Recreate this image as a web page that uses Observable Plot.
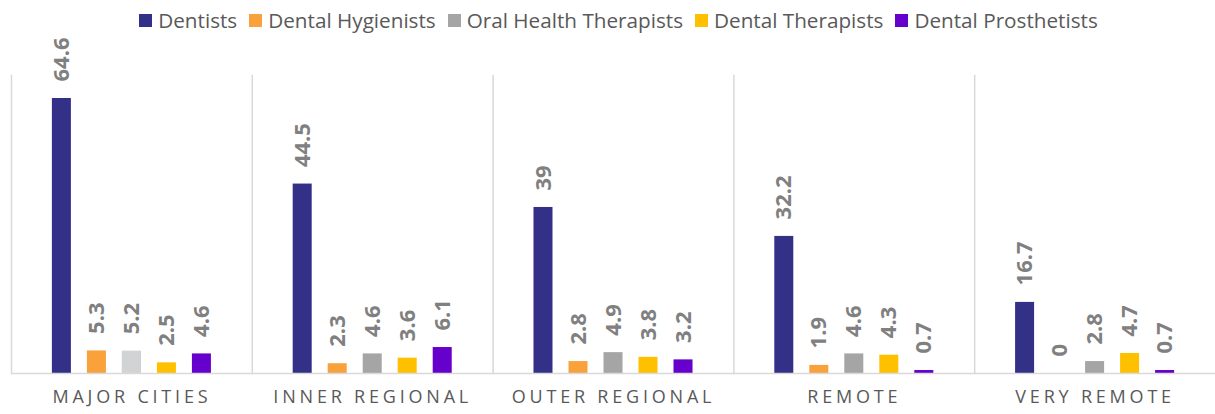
<!DOCTYPE html>
<html>
<head>
<meta charset="utf-8">
<script src="https://cdn.jsdelivr.net/npm/d3@7"></script>
<script src="https://cdn.jsdelivr.net/npm/@observablehq/plot@0.6"></script>
<style>
  html, body { margin: 0; padding: 0; background: #fff; }
  #legend { position: relative; z-index: 1; height: 22px; overflow: visible; display: flex; justify-content: center; align-items: flex-start; gap: 12px;
            font-family: "Open Sans", sans-serif; font-size: 20.7px; color: #595959; padding-left: 22px; box-sizing: border-box; width: 1215px; }
  .item { display: flex; align-items: center; white-space: nowrap; height: 28px; margin-top: 6px; line-height: 28px; }
  .sw { width: 13px; height: 13px; margin-right: 6px; }
  svg { display: block; overflow: visible; }
</style>
</head>
<body>
<div id="legend"></div>
<div id="chart"></div>
<script>
const categories = ["Major Cities", "Inner Regional", "Outer Regional", "Remote", "Very Remote"];
const seriesNames = ["Dentists", "Dental Hygienists", "Oral Health Therapists", "Dental Therapists", "Dental Prosthetists"];
const dentists = [64.6, 44.5, 39, 32.2, 16.7];
const hygienists = [5.3, 2.3, 2.8, 1.9, 0];
const oralHealthTherapists = [5.2, 4.6, 4.9, 4.6, 2.8];
const dentalTherapists = [2.5, 3.6, 3.8, 4.3, 4.7];
const prosthetists = [4.6, 6.1, 3.2, 0.7, 0.7];
const seriesColors = ["#333088", "#F9A13B", "#A5A5A5", "#FFC000", "#6600CC"];

const seriesValues = [dentists, hygienists, oralHealthTherapists, dentalTherapists, prosthetists];
const rows = [];
categories.forEach((c, i) => seriesNames.forEach((s, j) => rows.push({category: c, series: s, value: seriesValues[j][i]})));

// legend
const legend = document.getElementById("legend");
seriesNames.forEach((s, j) => {
  const it = document.createElement("div"); it.className = "item";
  const sw = document.createElement("div"); sw.className = "sw"; sw.style.background = seriesColors[j];
  const t = document.createElement("span"); t.textContent = s;
  it.appendChild(sw); it.appendChild(t); legend.appendChild(it);
});

const font = "Open Sans, sans-serif";
const chart = Plot.plot({
  width: 1215,
  height: 392,
  marginLeft: 11,
  marginRight: 0,
  marginTop: 53,
  marginBottom: 41,
  style: {fontFamily: font, overflow: "visible"},
  fx: {domain: categories, padding: 0, axis: null, round: false},
  x: {domain: seriesNames, paddingInner: 0.457, paddingOuter: 1.168, axis: null, round: false},
  y: {domain: [0, 70], axis: null},
  color: {domain: seriesNames, range: seriesColors},
  marks: [
    Plot.frame({anchor: "left", stroke: "#D9D9D9", strokeWidth: 1.5}),
    Plot.barY(rows, {fx: "category", x: "series", y: "value", fill: "series"}),
    Plot.barY(rows.filter(d => d.category === "Major Cities" && d.series === "Oral Health Therapists"),
      {fx: "category", x: "series", y: "value", fill: "#D1D3D4"}),
    Plot.ruleY([0], {stroke: "#D9D9D9", strokeWidth: 1.5}),
    Plot.text(rows, {fx: "category", x: "series", y: "value", text: d => String(d.value),
      rotate: -90, textAnchor: "start", dy: -17, fill: "#808080", fontWeight: "bold", fontSize: 22}),
    Plot.text(categories, {fx: d => d, text: d => d.toUpperCase(), frameAnchor: "bottom", dy: 29,
      fill: "#595959", fontSize: 18})
  ]
});
const upper = categories.map(c => c.toUpperCase());
d3.select(chart).selectAll("text").filter(function() { return upper.includes(this.textContent); })
  .attr("letter-spacing", "3.8px");
document.getElementById("chart").appendChild(chart);
</script>
</body>
</html>
